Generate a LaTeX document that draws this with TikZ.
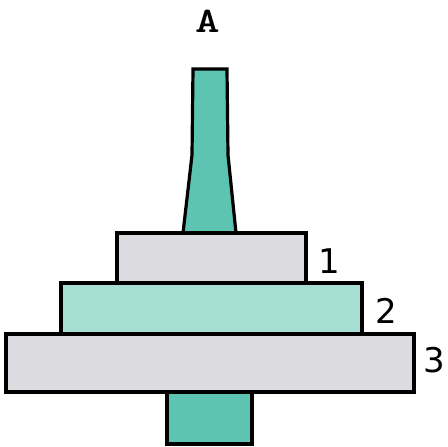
\documentclass[tikz,border=0pt]{standalone}
\usepackage{fontspec}
\setmainfont{DejaVu Sans}
\definecolor{tealdark}{HTML}{5CC4B0}
\definecolor{teallight}{HTML}{A6DED4}
\definecolor{graydisk}{HTML}{DCDCE0}
\begin{document}
\begin{tikzpicture}[x=1pt,y=-1pt,
  part/.style={draw=black,line width=3.2pt,line join=miter},
  lbl/.style={inner sep=0pt}]
\useasboundingbox (0,0) rectangle (448,447);
% bottom stem
\draw[part,fill=tealdark] (167,392) rectangle (252,444);
% spike
\draw[part,fill=tealdark] (193,69) -- (227,69) -- (228,155) -- (236,233) -- (183,233) -- (192,155) -- cycle;
% disks
\draw[part,fill=graydisk] (6,334) rectangle (414,392);
\draw[part,fill=teallight] (61,283) rectangle (362,334);
\draw[part,fill=graydisk] (117,233) rectangle (306,283);
% labels
\node[lbl,xscale=1.3,transform shape] (A) at (208,21) {\ttfamily\bfseries\fontsize{36}{36}\selectfont A};
\node[lbl] (n1) at (329,261) {\fontsize{34}{34}\selectfont 1};
\node[lbl] (n2) at (386,311) {\fontsize{34}{34}\selectfont 2};
\node[lbl] (n3) at (434,360) {\fontsize{34}{34}\selectfont 3};
\end{tikzpicture}
\end{document}
